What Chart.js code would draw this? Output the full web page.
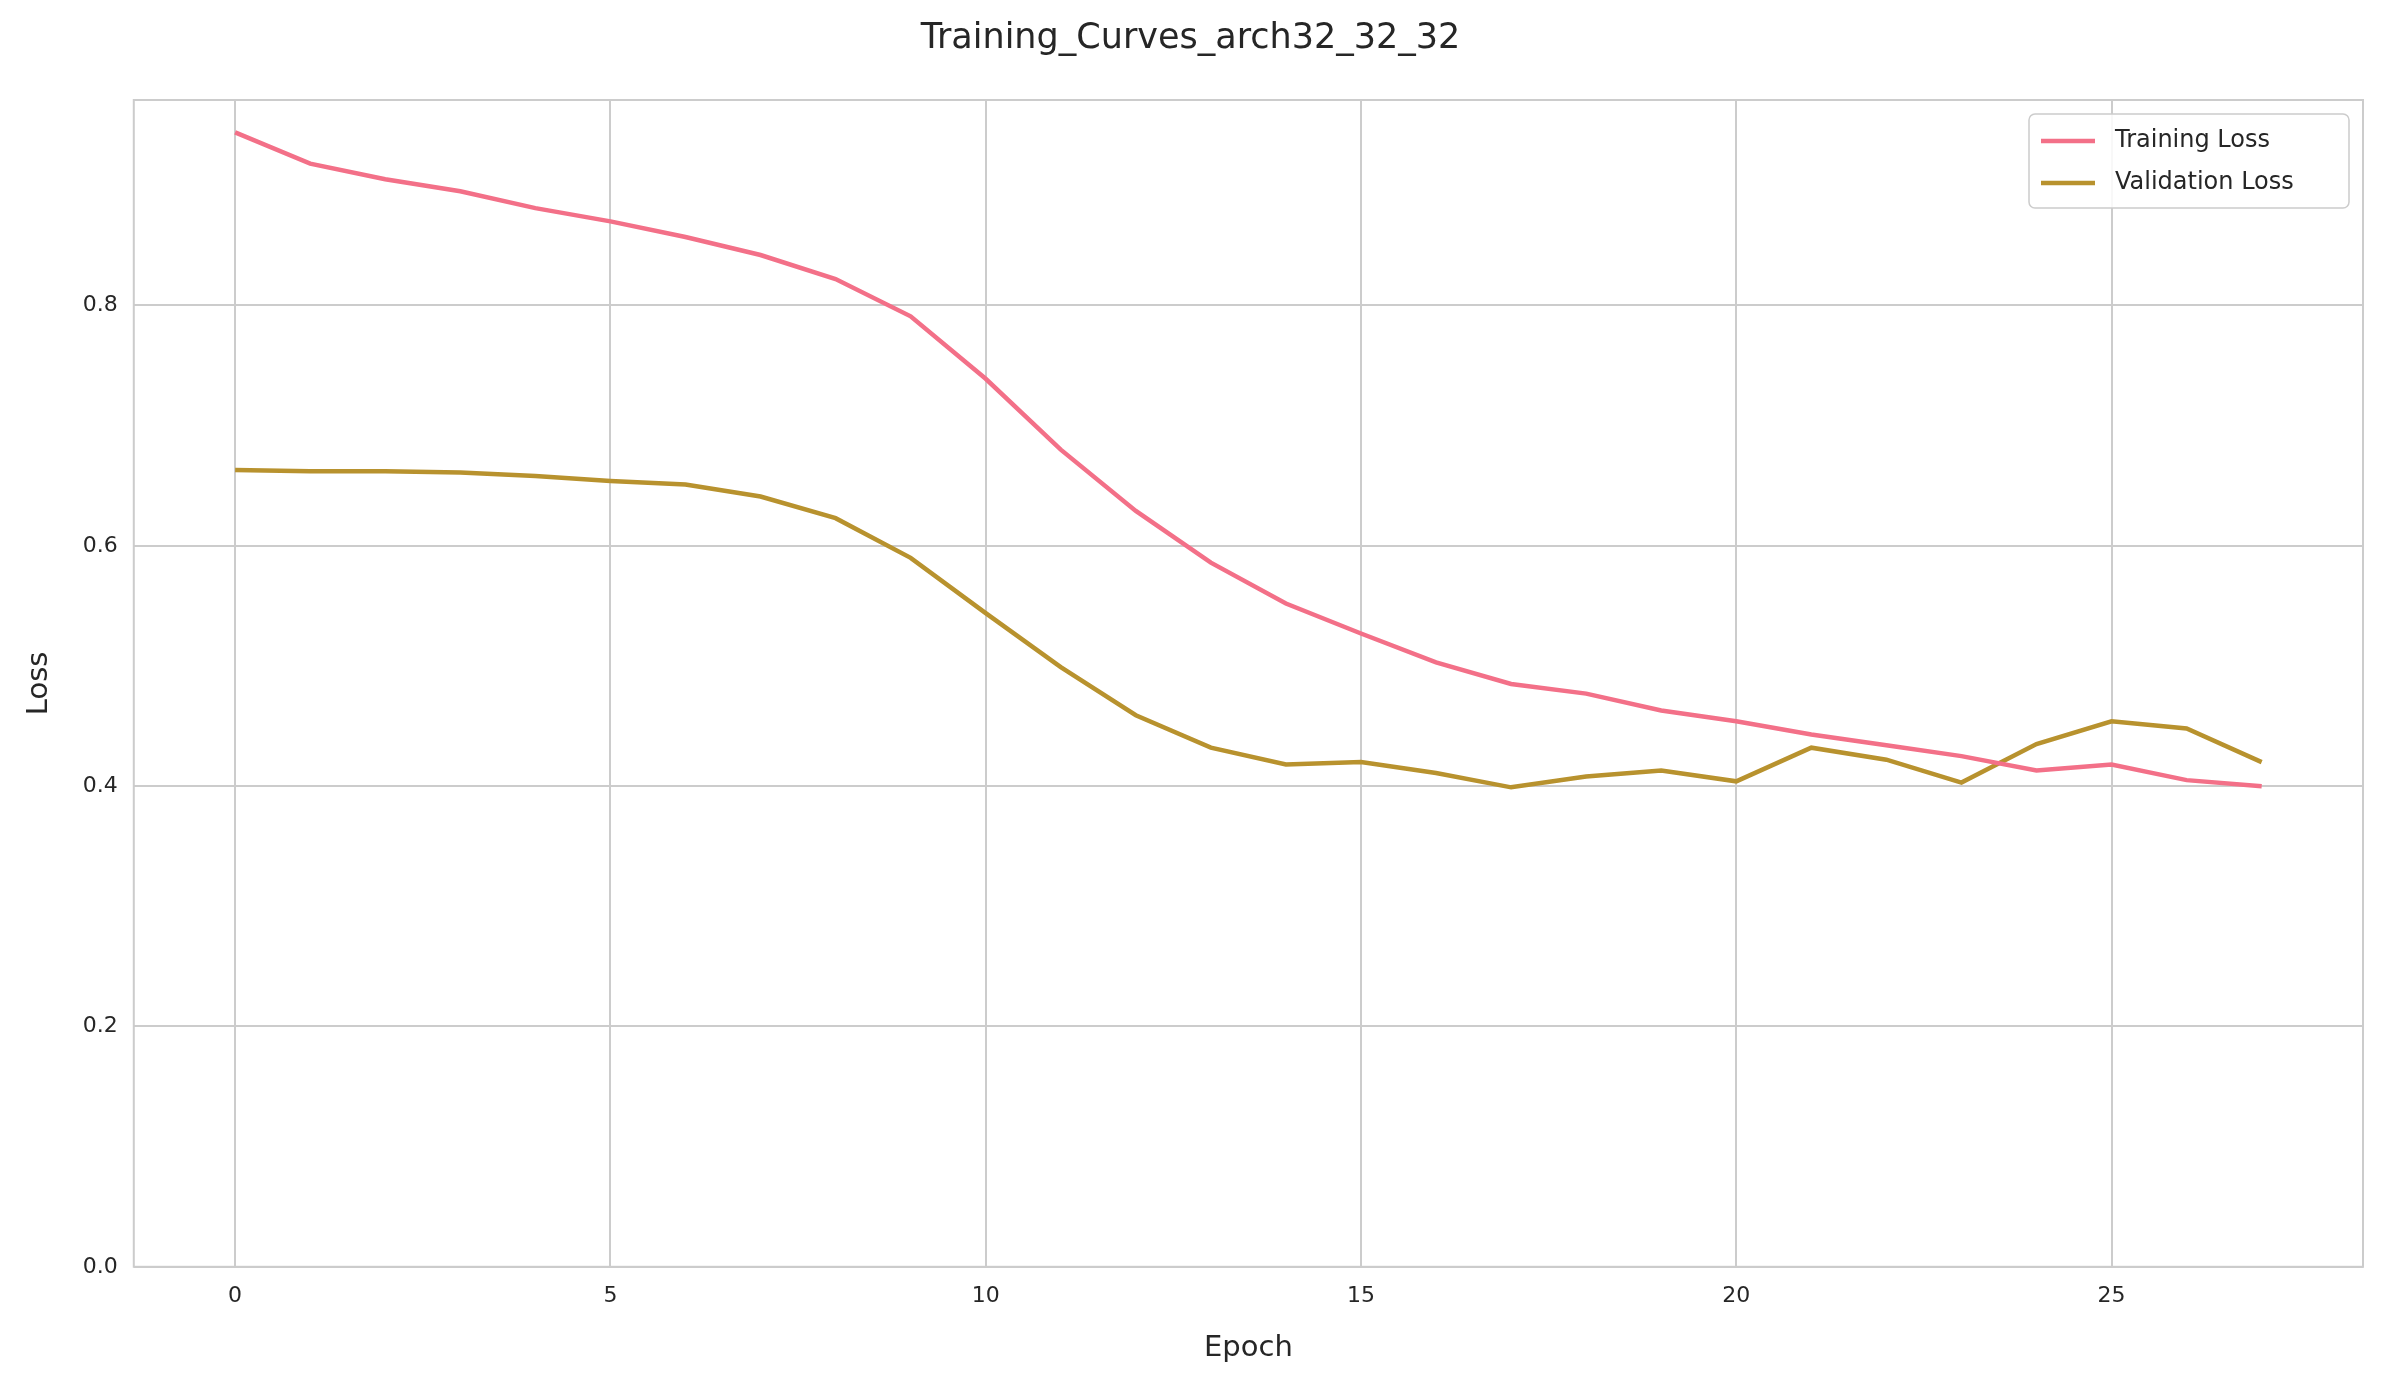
<!DOCTYPE html>
<html>
<head>
<meta charset="utf-8">
<script src="https://cdn.jsdelivr.net/npm/chart.js@4.4.0/dist/chart.umd.min.js"></script>
<style>body{margin:0;background:#fff}</style>
</head>
<body>
<canvas id="c" width="2382" height="1382"></canvas>
<script>
// values
var epochs = [];
for (var i = 0; i < 28; i++) epochs.push(i);
var trainLoss = [0.944,0.918,0.905,0.895,0.881,0.870,0.857,0.842,0.822,0.791,0.739,0.680,0.629,0.586,0.552,0.527,0.503,0.485,0.477,0.463,0.454,0.443,0.434,0.425,0.413,0.418,0.405,0.400];
var valLoss = [0.663,0.662,0.662,0.661,0.658,0.654,0.651,0.641,0.623,0.590,0.544,0.499,0.459,0.432,0.418,0.420,0.411,0.399,0.408,0.413,0.404,0.432,0.422,0.403,0.435,0.454,0.448,0.420];
var xTicks = [0,5,10,15,20,25];
var yTicks = [0,0.2,0.4,0.6,0.8];

var font = "'DejaVu Sans', sans-serif";
var colors = ["#f37088", "#b8922e"];
var labels = ["Training Loss", "Validation Loss"];

function pts(arr) {
  return arr.map(function(v, i) { return {x: epochs[i], y: v}; });
}

// frame round the plot plus a legend inside its top right corner
var framePlugin = {
  id: "frame",
  afterDraw: function(chart) {
    var ctx = chart.ctx, a = chart.chartArea;
    ctx.save();
    ctx.strokeStyle = "#cccccc";
    ctx.lineWidth = 2;
    ctx.strokeRect(a.left, a.top, a.right - a.left, a.bottom - a.top);

    var w = 320, h = 94, x = a.right - w - 14, y = a.top + 14;
    ctx.fillStyle = "rgba(255,255,255,0.85)";
    ctx.strokeStyle = "#cccccc";
    ctx.lineWidth = 1.5;
    ctx.beginPath();
    ctx.roundRect(x, y, w, h, 6);
    ctx.fill();
    ctx.stroke();
    ctx.font = "24px " + font;
    ctx.textBaseline = "middle";
    for (var k = 0; k < 2; k++) {
      var ly = y + 27 + k * 42;
      ctx.strokeStyle = colors[k];
      ctx.lineWidth = 4.5;
      ctx.beginPath();
      ctx.moveTo(x + 12, ly);
      ctx.lineTo(x + 66, ly);
      ctx.stroke();
      ctx.fillStyle = "#262626";
      ctx.fillText(labels[k], x + 86, ly);
    }
    ctx.restore();
  }
};

new Chart(document.getElementById("c"), {
  type: "line",
  data: {
    datasets: [
      {label: labels[0], data: pts(trainLoss), borderColor: colors[0], borderWidth: 4.5, pointRadius: 0, tension: 0},
      {label: labels[1], data: pts(valLoss), borderColor: colors[1], borderWidth: 4.5, pointRadius: 0, tension: 0}
    ]
  },
  options: {
    responsive: false,
    animation: false,
    devicePixelRatio: 1,
    layout: {padding: {left: 18, right: 19, top: 10, bottom: 12}},
    plugins: {
      legend: {display: false},
      tooltip: {enabled: false},
      title: {
        display: true,
        text: "Training_Curves_arch32_32_32",
        color: "#262626",
        font: {family: font, size: 35, weight: "normal"},
        padding: {top: 8, bottom: 40}
      }
    },
    scales: {
      x: {
        type: "linear",
        min: -1.35,
        max: 28.35,
        afterBuildTicks: function(s) { s.ticks = xTicks.map(function(v) { return {value: v}; }); },
        grid: {color: "#cccccc", lineWidth: 2, drawTicks: false},
        border: {display: false},
        ticks: {color: "#262626", font: {family: font, size: 22}, padding: 16},
        title: {display: true, text: "Epoch", color: "#262626", font: {family: font, size: 29}, padding: {top: 6}}
      },
      y: {
        min: 0,
        max: 0.971,
        afterBuildTicks: function(s) { s.ticks = yTicks.map(function(v) { return {value: v}; }); },
        grid: {color: "#cccccc", lineWidth: 2, drawTicks: false},
        border: {display: false},
        ticks: {color: "#262626", font: {family: font, size: 22}, padding: 16,
                callback: function(v) { return v.toFixed(1); }},
        title: {display: true, text: "Loss", color: "#262626", font: {family: font, size: 29}, padding: {bottom: 10}}
      }
    }
  },
  plugins: [framePlugin]
});
</script>
</body>
</html>
